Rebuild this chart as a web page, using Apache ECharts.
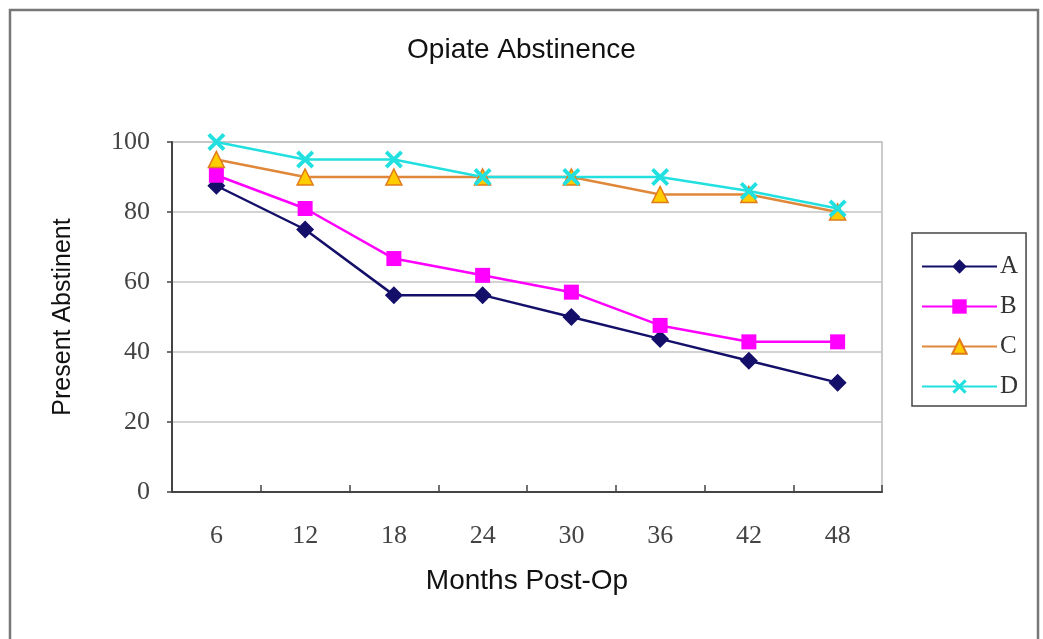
<!DOCTYPE html>
<html>
<head>
<meta charset="utf-8">
<script src="https://cdn.jsdelivr.net/npm/echarts@6/dist/echarts.min.js"></script>
<style>
html,body{margin:0;padding:0;background:#fff;}
#main{width:1043px;height:639px;}
</style>
</head>
<body>
<div id="main"></div>
<script>
const months = ['6', '12', '18', '24', '30', '36', '42', '48'];
const seriesA = [87.5, 75, 56.25, 56.25, 50, 43.75, 37.5, 31.25];
const seriesB = [90.5, 81, 66.7, 61.9, 57.1, 47.6, 42.9, 42.9];
const seriesC = [95, 90, 90, 90, 90, 85, 85, 80];
const seriesD = [100, 95, 95, 90, 90, 90, 86, 81];
const yTicks = [0, 20, 40, 60, 80, 100];

const xPath = 'path://M0,1.5 L1.5,0 L5,3.5 L8.5,0 L10,1.5 L6.5,5 L10,8.5 L8.5,10 L5,6.5 L1.5,10 L0,8.5 L3.5,5 Z';

const chart = echarts.init(document.getElementById('main'));
const serifLabel = {fontFamily: '"Liberation Serif", serif', fontSize: 26, color: '#444'};

chart.setOption({
  backgroundColor: '#fff',
  animation: false,
  graphic: [{
    type: 'rect',
    shape: {x: 10, y: 10, width: 1028, height: 660},
    style: {fill: 'none', stroke: '#777', lineWidth: 2.5},
    silent: true
  }],
  title: {
    text: 'Opiate Abstinence',
    left: 'center',
    top: 31,
    textStyle: {fontFamily: '"Liberation Sans", Arial, sans-serif', fontSize: 28, fontWeight: 'normal', color: '#111'}
  },
  legend: {
    orient: 'vertical',
    left: 912,
    top: 233,
    width: 116,
    padding: [21, 8, 7, 9],
    itemGap: 15,
    itemWidth: 75,
    itemHeight: 18,
    borderColor: '#444',
    borderWidth: 1.5,
    textStyle: {fontFamily: '"Liberation Serif", serif', fontSize: 25, color: '#333', padding: [0, 0, 0, -2]},
    data: ['A', 'B', 'C', 'D']
  },
  grid: {left: 172, right: 161, top: 142, bottom: 147, show: true, borderColor: '#bbb', borderWidth: 1.5},
  xAxis: {
    type: 'category',
    data: months,
    boundaryGap: true,
    name: 'Months Post-Op',
    nameLocation: 'middle',
    nameGap: 75,
    nameTextStyle: {fontFamily: '"Liberation Sans", Arial, sans-serif', fontSize: 28, color: '#111'},
    axisLine: {lineStyle: {color: '#444', width: 2}},
    axisTick: {show: true, inside: true, length: 7, lineStyle: {color: '#444', width: 1.5}},
    axisLabel: Object.assign({margin: 31}, serifLabel),
    splitLine: {show: false}
  },
  yAxis: {
    type: 'value',
    min: 0,
    max: 100,
    interval: 20,
    name: 'Present Abstinent',
    nameLocation: 'middle',
    nameGap: 96,
    nameTextStyle: {fontFamily: '"Liberation Sans", Arial, sans-serif', fontSize: 25, color: '#111'},
    axisLine: {show: true, lineStyle: {color: '#444', width: 2}},
    axisTick: {show: true, length: 5, lineStyle: {color: '#444', width: 1.5}},
    axisLabel: Object.assign({margin: 22, formatter: function (v) { return yTicks.indexOf(v) >= 0 ? String(v) : ''; }}, serifLabel),
    splitLine: {show: true, lineStyle: {color: '#c4c4c4', width: 1.5}}
  },
  series: [
    {
      name: 'A', type: 'line', data: seriesA,
      symbol: 'diamond', symbolSize: 18,
      lineStyle: {color: '#14106a', width: 2.5},
      itemStyle: {color: '#14106a'}
    },
    {
      name: 'B', type: 'line', data: seriesB,
      symbol: 'rect', symbolSize: 15,
      lineStyle: {color: '#ff00ff', width: 2.5},
      itemStyle: {color: '#ff00ff'}
    },
    {
      name: 'C', type: 'line', data: seriesC,
      symbol: 'triangle', symbolSize: 16,
      lineStyle: {color: '#e0883a', width: 2.5},
      itemStyle: {color: '#ffcc00', borderColor: '#e07a1a', borderWidth: 1.5}
    },
    {
      name: 'D', type: 'line', data: seriesD,
      symbol: xPath, symbolSize: 18,
      lineStyle: {color: '#22e0e0', width: 2.5},
      itemStyle: {color: '#22e0e0'}
    }
  ]
});
</script>
</body>
</html>
